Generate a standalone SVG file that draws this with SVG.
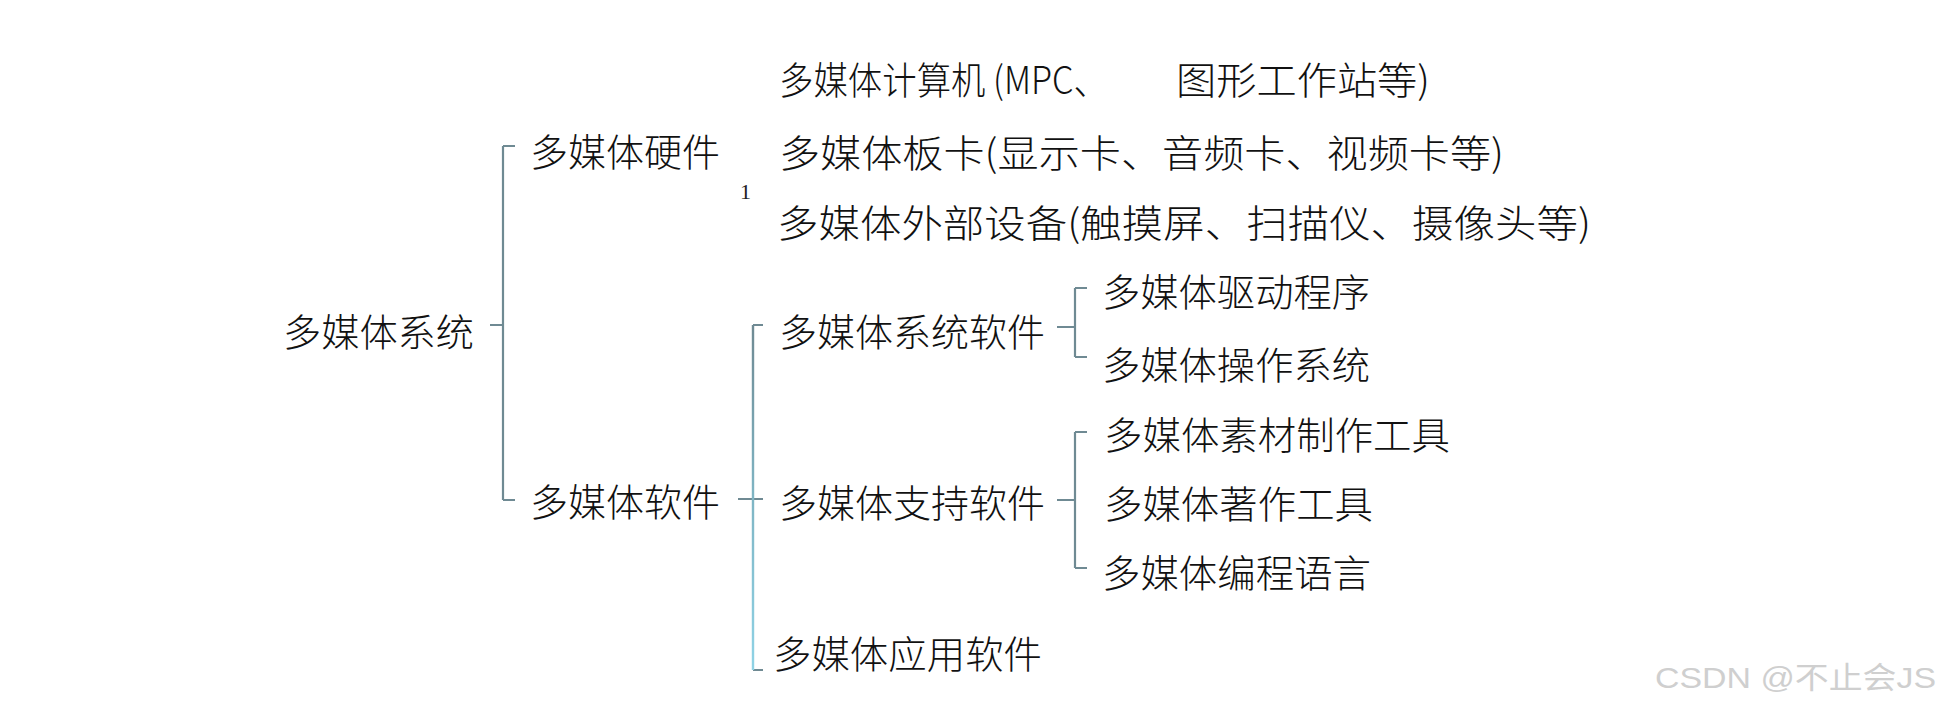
<svg xmlns="http://www.w3.org/2000/svg" width="1946" height="708" viewBox="0 0 1946 708">
<style>
.t{font-family:"Noto Sans CJK SC","Liberation Sans",sans-serif;font-size:38px;fill:#111;dominant-baseline:central;font-weight:300}
.c{stroke:#6f8a93;stroke-width:2.2;fill:none}
.wm{font-family:"Liberation Sans","Noto Sans CJK SC",sans-serif;font-size:30px;fill:#cfcfcf;dominant-baseline:central}
</style>
<defs>
<linearGradient id="g2" gradientUnits="userSpaceOnUse" x1="753" y1="325" x2="753" y2="670">
<stop offset="0" stop-color="#6f8a93"/>
<stop offset="0.5" stop-color="#7fb5c4"/>
<stop offset="1" stop-color="#8fd3e6"/>
</linearGradient>
</defs>
<rect width="1946" height="708" fill="#fff"/>
<g id="connectors">
<path class="c" d="M490 325H503M503 146V500M503 146H515M503 500H515"/>
<path class="c" d="M738 499H763M753 325H763M753 670H763"/>
<path d="M753 325V670" stroke="url(#g2)" stroke-width="2.4" fill="none"/>
<path class="c" d="M1057 327H1075M1075 288V357M1075 288H1087M1075 357H1087"/>
<path class="c" d="M1057 500H1075M1075 432V568M1075 432H1087M1075 568H1087"/>
</g>
<g id="root"><text class="t" x="283" y="329" textLength="191" lengthAdjust="spacingAndGlyphs">多媒体系统</text></g>
<g id="hardware"><text class="t" x="530" y="149" textLength="190" lengthAdjust="spacingAndGlyphs">多媒体硬件</text></g>
<g id="software"><text class="t" x="530" y="499" textLength="190" lengthAdjust="spacingAndGlyphs">多媒体软件</text></g>
<g id="mark"><text x="740" y="191" font-family="Liberation Serif,serif" font-size="22" fill="#222" dominant-baseline="central">1</text></g>
<g id="hw1"><text class="t" x="779" y="77" textLength="329" lengthAdjust="spacingAndGlyphs">多媒体计算机 (MPC、</text><text class="t" x="1176" y="77" textLength="254" lengthAdjust="spacingAndGlyphs">图形工作站等)</text></g>
<g id="hw2"><text class="t" x="779" y="150" textLength="725" lengthAdjust="spacingAndGlyphs">多媒体板卡(显示卡、音频卡、视频卡等)</text></g>
<g id="hw3"><text class="t" x="777" y="220" textLength="814" lengthAdjust="spacingAndGlyphs">多媒体外部设备(触摸屏、扫描仪、摄像头等)</text></g>
<g id="sys"><text class="t" x="779" y="329" textLength="266" lengthAdjust="spacingAndGlyphs">多媒体系统软件</text></g>
<g id="sup"><text class="t" x="779" y="500" textLength="266" lengthAdjust="spacingAndGlyphs">多媒体支持软件</text></g>
<g id="app"><text class="t" x="773" y="651" textLength="269" lengthAdjust="spacingAndGlyphs">多媒体应用软件</text></g>
<g id="drv"><text class="t" x="1102" y="289" textLength="268" lengthAdjust="spacingAndGlyphs">多媒体驱动程序</text></g>
<g id="os"><text class="t" x="1102" y="362" textLength="268" lengthAdjust="spacingAndGlyphs">多媒体操作系统</text></g>
<g id="mat"><text class="t" x="1104" y="432" textLength="346" lengthAdjust="spacingAndGlyphs">多媒体素材制作工具</text></g>
<g id="auth"><text class="t" x="1104" y="501" textLength="269" lengthAdjust="spacingAndGlyphs">多媒体著作工具</text></g>
<g id="prog"><text class="t" x="1102" y="570" textLength="269" lengthAdjust="spacingAndGlyphs">多媒体编程语言</text></g>
<g id="watermark"><text class="wm" x="1655" y="677" textLength="281" lengthAdjust="spacingAndGlyphs">CSDN @不止会JS</text></g>
</svg>
